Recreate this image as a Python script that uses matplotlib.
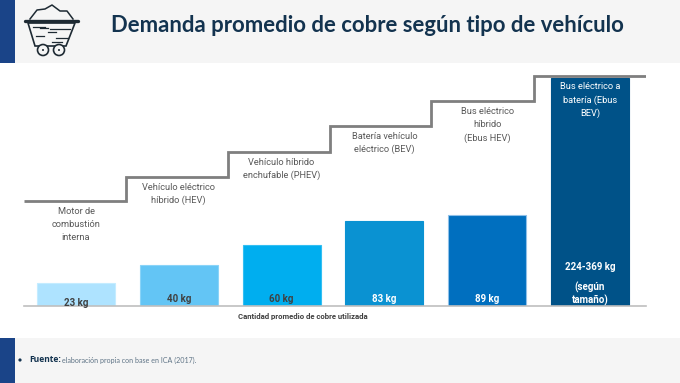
import matplotlib
matplotlib.use("Agg")
import matplotlib.pyplot as plt
import numpy as np
from matplotlib.patches import Circle, Polygon, Rectangle

W, H = 680, 383

title = "Demanda promedio de cobre según tipo de vehículo"
categories = [
    "Motor de\ncombustión\ninterna",
    "Vehículo eléctrico\nhíbrido (HEV)",
    "Vehículo híbrido\nenchufable (PHEV)",
    "Batería vehículo\neléctrico (BEV)",
    "Bus eléctrico\nhíbrido\n(Ebus HEV)",
    "Bus eléctrico a\nbatería (Ebus\nBEV)",
]
values = [23, 40, 60, 83, 89, 224]
value_labels = ["23 kg", "40 kg", "60 kg", "83 kg", "89 kg", "224-369 kg"]
step_levels = [102.5, 126.5, 151, 176.5, 201, 225.5]
step_edges = [0.49, 1.483, 2.47, 3.453, 4.455]
bar_colors = ["#aee3ff", "#63c5f5", "#00aeef", "#0a92d2", "#006fbf", "#005288"]
edge_colors = ["#c4ecff", "#8ad4f8", "#33bff2", "#0a92d2", "#8fc0e8", "#005288"]
value_colors = ["#404040", "#404040", "#404040", "white", "white", "white"]

NAVY = "#13334f"
BLUE = "#1a4488"
PANEL = "#f5f5f5"
GREY = "#7f7f7f"
LABEL = "#595959"

fig = plt.figure(figsize=(W / 100, H / 100), dpi=100, facecolor="white")

# page furniture, in pixels
bg = fig.add_axes([0, 0, 1, 1])
bg.set_xlim(0, W)
bg.set_ylim(H, 0)
bg.axis("off")
bg.add_patch(Rectangle((0, 0), W, 63, color=PANEL, lw=0))
bg.add_patch(Rectangle((0, 338), W, 45, color=PANEL, lw=0))
bg.add_patch(Rectangle((0, 0), 15, 63, color=BLUE, lw=0))
bg.add_patch(Rectangle((0, 338), 15, 45, color=BLUE, lw=0))

# mine cart icon
ink = "#1e2a33"
rocks = [(30, 19), (37, 10), (45, 9), (52, 5), (60, 11), (67, 11), (73, 19)]
bg.plot(*zip(*rocks), color=ink, lw=1.1)
bg.plot([25, 78], [21, 21], color=ink, lw=2.4, solid_capstyle="round")
bg.add_patch(Polygon([(28, 23), (35, 46), (66, 46), (75, 23)], closed=True, fill=False, ec=ink, lw=1.2))
for x0, x1, y in [(33, 45, 27), (50, 70, 29), (36, 44, 36), (48, 56, 32), (56, 68, 38), (52, 62, 42), (40, 48, 28)]:
    bg.plot([x0, x1], [y, y], color=ink, lw=0.9)
for x in (43, 59):
    bg.add_patch(Circle((x, 50), 5.5, fc=PANEL, ec=ink, lw=1.2, zorder=3))
    bg.add_patch(Circle((x, 50), 1, fc=ink, ec=ink, lw=0, zorder=4))

bg.text(111, 26, title, fontsize=15.9, fontweight="bold", color=NAVY,
        family="Lato", va="center", ha="left")

bg.add_patch(Circle((20, 360), 1.6, fc=NAVY, ec=NAVY, lw=0))
bg.text(29, 360, "Fuente:", fontsize=6.1, fontweight="bold", color=NAVY,
        family="Open Sans", va="center", ha="left")
bg.text(62, 360, "elaboración propia con base en ICA (2017).", fontsize=5.1, color="#5f7486",
        family="Lato", va="center", ha="left")

# chart
ax = fig.add_axes([24 / W, (H - 306) / H, 622 / W, 240 / H], facecolor="none")
x = np.arange(len(categories))
sx = 102.8
sy = 1.02
ax.set_xlim(-52 / sx, 5 + 56 / sx)
ax.set_ylim(0, 240 / sy)

ax.bar(x, values, width=0.76, color=bar_colors, edgecolor=edge_colors, linewidth=0.8, zorder=2)

edges = [ax.get_xlim()[0]] + step_edges + [ax.get_xlim()[1]]
ax.stairs(step_levels, edges, baseline=None, color=GREY, linewidth=2.0, zorder=3)

for i, (cat, lev) in enumerate(zip(categories, step_levels)):
    ax.text(x[i], lev - 5.5, cat, ha="center", va="top", fontsize=6.7, color="white" if i == 5 else LABEL,
            family="Roboto", linespacing=1.58, zorder=4)

for i, (lab, col) in enumerate(zip(value_labels, value_colors)):
    y = 39 if i == 5 else (3 if i == 0 else 7)
    ax.text(x[i], y / sy, lab, ha="center", va="center", fontsize=7, fontweight="bold", color=col,
            family="Roboto", zorder=4)
ax.text(x[5], 12 / sy, "(según\ntamaño)", ha="center", va="center", fontsize=7, fontweight="bold",
        color="white", family="Roboto", linespacing=1.25, zorder=4)

for s in ("top", "left", "right"):
    ax.spines[s].set_visible(False)
ax.spines["bottom"].set_color("#bfbfbf")
ax.spines["bottom"].set_linewidth(1.2)
ax.set_xticks([])
ax.set_yticks([])
ax.set_xlabel("Cantidad promedio de cobre utilizada", fontsize=5.6, fontweight="bold", color="#404040",
              family="Roboto")
ax.xaxis.set_label_coords((303 - 24) / 622, -10 / 240, transform=ax.transAxes)
ax.xaxis.label.set_va("center")

fig.savefig("out.png", dpi=100)
